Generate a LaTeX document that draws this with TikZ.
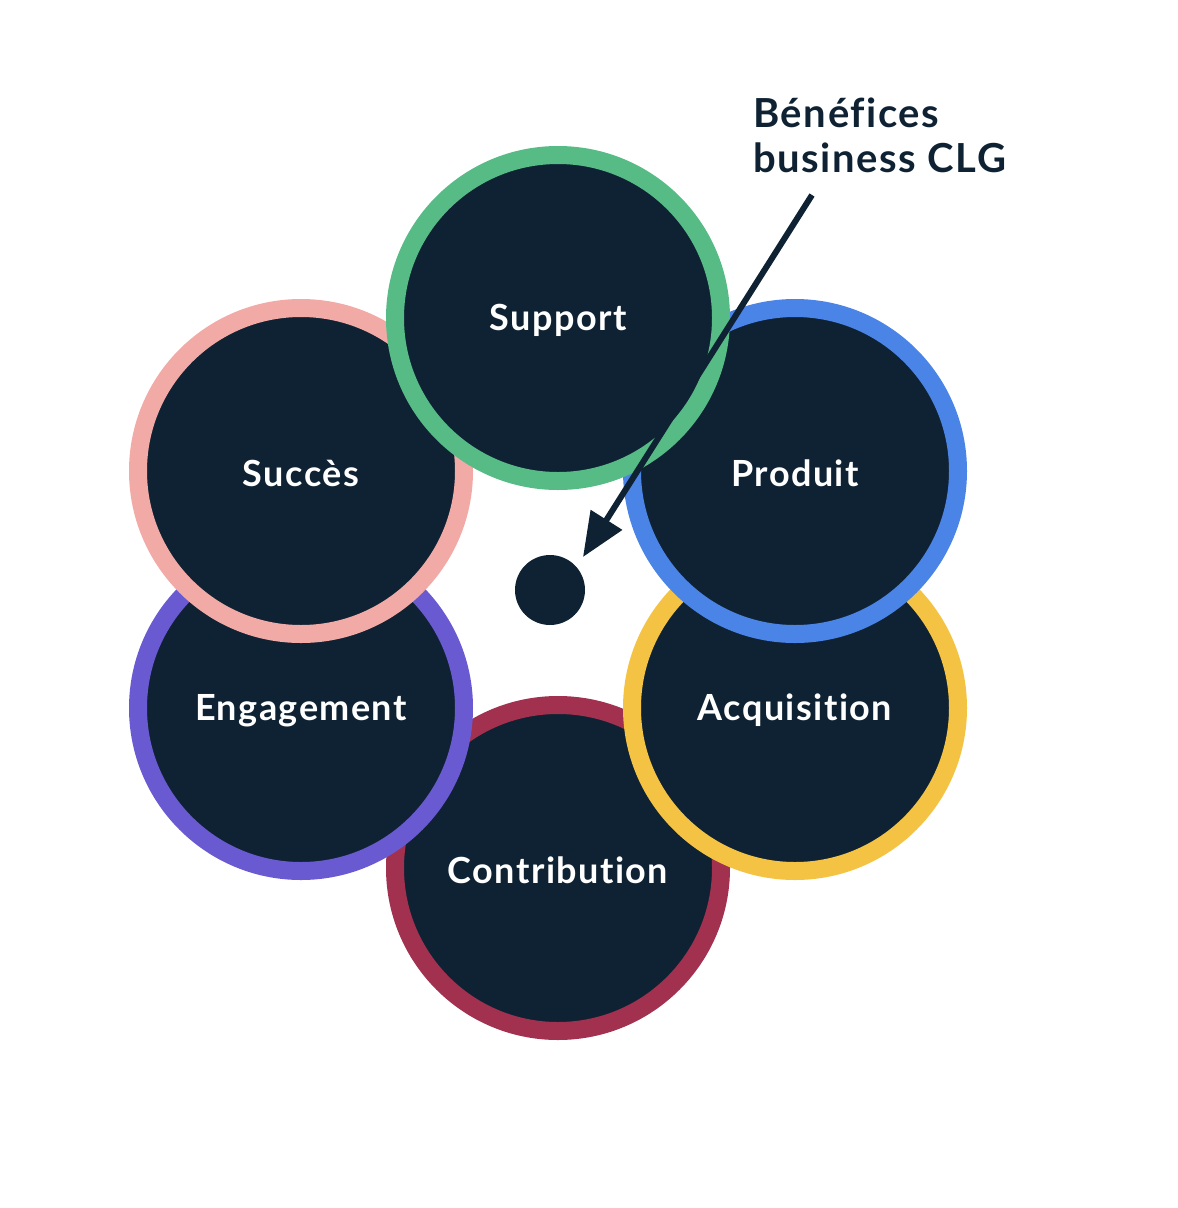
\documentclass[tikz,border=0pt]{standalone}
\usepackage{fontspec}
\setmainfont{Lato}[UprightFont=* Bold, LetterSpace=4, RawFeature={-liga;-dlig}]
\usetikzlibrary{arrows.meta}
\definecolor{navy}{HTML}{0F2233}
\definecolor{cgreen}{HTML}{57BB86}
\definecolor{cpink}{HTML}{F2AAA6}
\definecolor{cblue}{HTML}{4A84E6}
\definecolor{cpurple}{HTML}{6A5AD2}
\definecolor{cyellow}{HTML}{F4C343}
\definecolor{cred}{HTML}{A2304F}
\tikzset{
  ring/.style={circle, fill=navy, draw=#1, line width=18pt, minimum size=326pt, inner sep=0pt},
  lbl/.style={text=white, font=\fontsize{36}{42}\selectfont, yshift=-2.5pt},
  title/.style={text=navy, font=\fontsize{40}{45}\selectfont, align=left, anchor=north west, inner sep=0pt}
}
\begin{document}
\begin{tikzpicture}[x=1pt,y=-1pt]
\useasboundingbox (0,0) rectangle (1178,1208);
\node[ring=cred] (contribution) at (558,868) {};
\node[ring=cpurple] (engagement) at (301,708) {};
\node[ring=cyellow] (acquisition) at (795,708) {};
\node[ring=cpink] (succes) at (301,471) {};
\node[ring=cblue] (produit) at (795,471) {};
\node[ring=cgreen] (support) at (558,318) {};
\node[lbl] at (contribution) {Contribution};
\node[lbl] at (engagement) {Engagement};
\node[lbl] at (acquisition) {Acquisition};
\node[lbl] at (succes) {Succès};
\node[lbl] at (produit) {Produit};
\node[lbl] at (support) {Support};
\node[circle, fill=navy, minimum size=70pt, inner sep=0pt] (dot) at (550,590) {};
\node[title] (label) at (753,97.5) {Bénéfices\\business CLG};
\coordinate (start) at (812,195);
\coordinate (tip) at (583,557);
\draw[navy, line width=6pt, -{Triangle[length=44pt,width=36pt]}] (start) -- (tip);
\end{tikzpicture}
\end{document}
